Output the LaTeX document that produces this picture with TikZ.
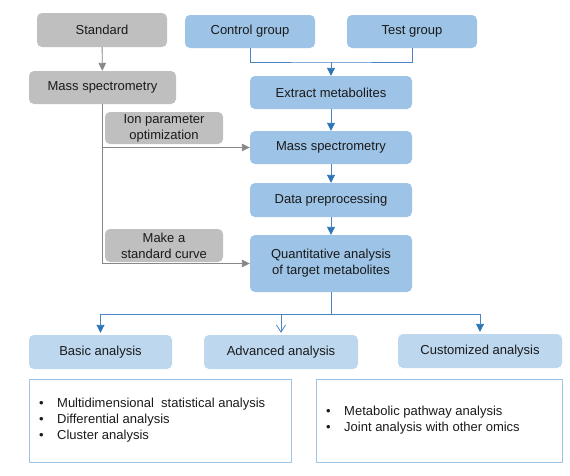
\documentclass[tikz,border=0pt]{standalone}
\usepackage{fontspec}
\setmainfont{Liberation Sans}
\usepackage{xcolor}
\usetikzlibrary{arrows.meta}
\definecolor{boxgray}{HTML}{BFBFBF}
\definecolor{linegray}{HTML}{878787}
\definecolor{boxblue}{HTML}{9DC3E6}
\definecolor{boxlight}{HTML}{BDD7EE}
\definecolor{lineblue}{HTML}{4A84C4}
\definecolor{tipblue}{HTML}{2E75B6}
\definecolor{txt}{HTML}{1A1A1A}
\tikzset{base/.style={rounded corners=5pt,align=center,text=txt,inner sep=0pt,
   font=\fontsize{13pt}{16pt}\selectfont},
 graybox/.style={base,fill=boxgray},
 bluebox/.style={base,fill=boxblue,minimum width=162pt},
 lightbox/.style={base,fill=boxlight,minimum height=34pt},
 listbox/.style={draw=boxblue,line width=0.8pt},
 listtext/.style={anchor=west,align=left,text=txt,inner sep=0pt,
   font=\fontsize{13pt}{16pt}\selectfont},
 grayarrow/.style={draw=linegray,line width=0.9pt,-{Triangle[length=8pt,width=7.5pt]}},
 grayline/.style={draw=linegray,line width=0.9pt},
 bluearrow/.style={draw=lineblue,line width=0.9pt,-{Triangle[length=8pt,width=8pt,color=tipblue]}},
 blueline/.style={draw=lineblue,line width=0.9pt},
 openarrow/.style={draw=lineblue,line width=0.9pt,-{Straight Barb[length=7pt,width=9pt,line width=0.8pt]}},
 }
\newcommand{\bul}{\makebox[18pt][l]{\textbullet}}

\begin{document}
\begin{tikzpicture}[x=1pt,y=-1pt]
        \useasboundingbox (0,0) rectangle (570,475);
        % left column
        \node[graybox,minimum width=130pt,minimum height=34pt] (std) at (102,30) {Standard};
        \node[graybox,minimum width=147pt,minimum height=33pt] (msg) at (102.5,87.5) {Mass spectrometry};
        \node[graybox,minimum width=118pt,minimum height=32pt] (ion) at (164,128) {Ion parameter\\optimization};
        \node[graybox,minimum width=118pt,minimum height=33pt] (curve) at (164,245.5) {Make a\\standard curve};
        % main column
        \node[bluebox,minimum width=130pt,minimum height=33pt] (ctrl) at (250,31.5) {Control group};
        \node[bluebox,minimum width=130pt,minimum height=33pt] (test) at (412,31.5) {Test group};
        \node[bluebox,minimum height=33pt] (extract) at (331,92.5) {Extract metabolites};
        \node[bluebox,minimum height=33pt] (ms) at (331,147.5) {Mass spectrometry};
        \node[bluebox,minimum height=34pt] (prep) at (331,200) {Data preprocessing};
        \node[bluebox,minimum height=57pt] (quant) at (331,263.5) {Quantitative analysis\\of target metabolites};
        % analyses
        \node[lightbox,minimum width=143pt] (basic) at (100.5,352) {Basic analysis};
        \node[lightbox,minimum width=154pt] (adv) at (281,352) {Advanced analysis};
        \node[lightbox,minimum width=164pt] (cust) at (480,351) {Customized analysis};
        \draw[listbox] (29,379) rectangle (291,462);
        \draw[listbox] (316,379) rectangle (562,462);
        \node[listtext] (basiclist) at (39,420) {\bul Multidimensional\ \ statistical analysis\\
            \bul Differential analysis\\\bul Cluster analysis};
        \node[listtext] (custlist) at (326,420.5) {\bul Metabolic pathway analysis\\
            \bul Joint analysis with other omics};
        % connectors
        \draw[grayarrow] (std) -- (msg);
        \draw[grayline] (msg.south) -- (msg.south |- quant.west);
        \draw[grayarrow] (msg.south |- ms.west) -- (ms.west);
        \draw[grayarrow] (msg.south |- quant.west) -- (quant.west);
        \coordinate (join) at (331,62);
        \draw[blueline] (ctrl.south) |- (join) -| (test.south);
        \draw[bluearrow] (join) -- (extract);
        \draw[bluearrow] (extract) -- (ms);
        \draw[bluearrow] (ms) -- (prep);
        \draw[bluearrow] (prep) -- (quant);
        \coordinate (split) at (331,314);
        \draw[blueline] (quant.south) -- (split);
        \draw[bluearrow] (split) -| ([yshift=2pt]basic.north);
        \draw[openarrow] (split) -| ([yshift=2pt]adv.north);
        \draw[bluearrow] (split) -| ([yshift=2pt]cust.north);
    \end{tikzpicture}
\end{document}
